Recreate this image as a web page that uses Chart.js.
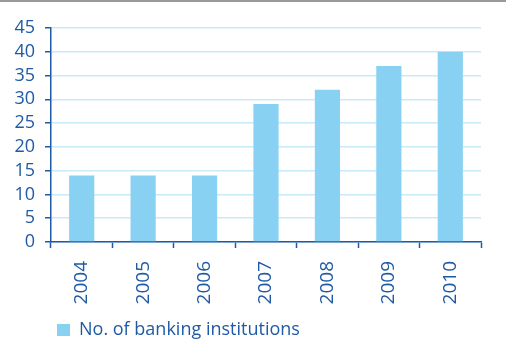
<!DOCTYPE html>
<html lang="en">
<head>
<meta charset="UTF-8">
<title>No. of banking institutions</title>
<script src="https://cdn.jsdelivr.net/npm/chart.js"></script>
<style>
  html, body { margin: 0; padding: 0; background: #fff; }
  body { width: 506px; height: 363px; overflow: hidden; }
  .topline { height: 2px; background: #999; }
  #wrap { position: relative; width: 506px; height: 361px; }
</style>
</head>
<body>
<div class="topline"></div>
<div id="wrap"><canvas id="chart"></canvas></div>
<script>
const years = ['2004', '2005', '2006', '2007', '2008', '2009', '2010'];
const institutions = [14, 14, 14, 29, 32, 37, 40];
const seriesName = 'No. of banking institutions';

const blue = '#1f5aa6';
const grid = '#c9eaf8';
const barColor = '#89d1f2';

Chart.defaults.font.family = '"Open Sans", sans-serif';
Chart.defaults.color = blue;

new Chart(document.getElementById('chart'), {
  type: 'bar',
  data: {
    labels: years,
    datasets: [{
      label: seriesName,
      data: institutions,
      backgroundColor: barColor,
      borderWidth: 0,
      categoryPercentage: 1,
      barPercentage: 0.41
    }]
  },
  options: {
    responsive: true,
    maintainAspectRatio: false,
    animation: false,
    layout: { padding: { top: 26, right: 25, bottom: 14, left: 0 } },
    plugins: {
      tooltip: { enabled: false },
      legend: {
        position: 'bottom',
        align: 'start',
        fullSize: false,
        labels: {
          boxWidth: 13,
          boxHeight: 12,
          padding: 6,
          color: blue,
          font: { size: 18 }
        }
      }
    },
    scales: {
      x: {
        afterFit: s => { s.height = 73; },
        border: { color: blue, width: 1.5 },
        grid: { drawOnChartArea: false, tickColor: blue, tickLength: 6, tickWidth: 1.5 },
        ticks: { maxRotation: 90, minRotation: 90, padding: 13, color: blue, font: { size: 19 } }
      },
      y: {
        min: 0,
        max: 45,
        afterFit: s => { s.width = 51; },
        border: { color: blue, width: 1.5 },
        grid: { color: grid, lineWidth: 1.5, tickColor: blue, tickLength: 6 },
        ticks: { stepSize: 5, autoSkip: false, padding: 10, color: blue, font: { size: 18 } }
      }
    }
  }
});
</script>
</body>
</html>
